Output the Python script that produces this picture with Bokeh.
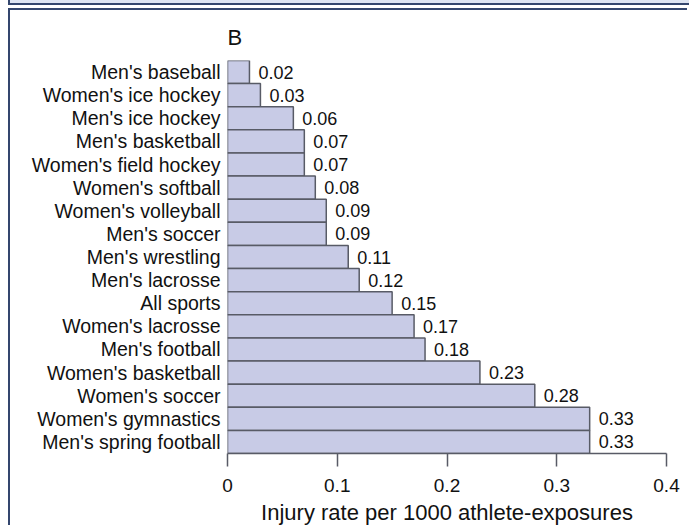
from bokeh.plotting import figure
from bokeh.models import FactorRange, Range1d, FixedTicker, Div
from bokeh.layouts import column
from bokeh.core.properties import value
from bokeh.embed import file_html
from bokeh.resources import INLINE

sports = ["Men's baseball", "Women's ice hockey", "Men's ice hockey", "Men's basketball",
          "Women's field hockey", "Women's softball", "Women's volleyball", "Men's soccer",
          "Men's wrestling", "Men's lacrosse", "All sports", "Women's lacrosse",
          "Men's football", "Women's basketball", "Women's soccer", "Women's gymnastics",
          "Men's spring football"]
rates = [0.02, 0.03, 0.06, 0.07, 0.07, 0.08, 0.09, 0.09, 0.11, 0.12, 0.15, 0.17,
         0.18, 0.23, 0.28, 0.33, 0.33]
rate_labels = ["%.2f" % r for r in rates]
x_ticks = [0, 0.1, 0.2, 0.3, 0.4]
x_tick_labels = ["0", "0.1", "0.2", "0.3", "0.4"]

FONT = "Liberation Sans"
DARK = "#34466e"

strip = Div(text="", width=681, height=5, margin=(0, 0, 3, 8),
            styles={"background-color": "#dde4f2", "border-left": "2px solid " + DARK,
                    "border-bottom": "2px solid " + DARK, "box-sizing": "border-box"})

p = figure(width=679, height=517, output_backend="svg", toolbar_location=None,
           y_range=FactorRange(factors=sports[::-1], range_padding=0),
           x_range=Range1d(0, 0.4),
           min_border_left=217, min_border_right=23, min_border_top=50, min_border_bottom=70)
p.margin = (0, 0, 0, 8)
p.styles = {"border-left": "2px solid " + DARK, "border-top": "2px solid " + DARK}

p.hbar(y=sports, right=rates, left=0, height=1.0, fill_color="#c8cbe6",
       line_color="#585b66", line_width=1.5)
p.text(x=rates, y=sports, text=rate_labels, x_offset=9, text_baseline="middle",
       text_align="left", text_font=value(FONT), text_font_size="18px", text_color="#111111")

p.title.text = "B"
p.title.align = "left"
p.title.offset = 0
p.title.text_font = FONT
p.title.text_font_size = "22px"
p.title.text_font_style = "normal"
p.title.text_color = "#111111"
p.title.standoff = 21

p.xgrid.visible = False
p.ygrid.visible = False
p.outline_line_color = None

xa = p.xaxis[0]
xa.ticker = FixedTicker(ticks=x_ticks)
xa.major_label_overrides = {t: l for t, l in zip(x_ticks, x_tick_labels)}
xa.minor_tick_line_color = None
xa.major_tick_in = 0
xa.major_tick_out = 13
xa.major_tick_line_color = "#585b66"
xa.major_tick_line_width = 1.5
xa.axis_line_color = "#585b66"
xa.axis_line_width = 1.5
xa.major_label_standoff = 12
xa.major_label_text_font = FONT
xa.major_label_text_font_size = "19px"
xa.major_label_text_color = "#111111"
xa.axis_label = "Injury rate per 1000 athlete-exposures"
xa.axis_label_text_font = FONT
xa.axis_label_text_font_size = "22px"
xa.axis_label_text_font_style = "normal"
xa.axis_label_text_color = "#111111"
xa.axis_label_standoff = 5

ya = p.yaxis[0]
ya.axis_line_color = None
ya.major_tick_line_color = None
ya.minor_tick_line_color = None
ya.major_tick_in = 0
ya.major_tick_out = 0
ya.major_label_standoff = 7
ya.major_label_text_font = FONT
ya.major_label_text_font_size = "19.5px"
ya.major_label_text_color = "#111111"

layout = column(strip, p, spacing=0)
open("out.html", "w").write(file_html(layout, INLINE))
